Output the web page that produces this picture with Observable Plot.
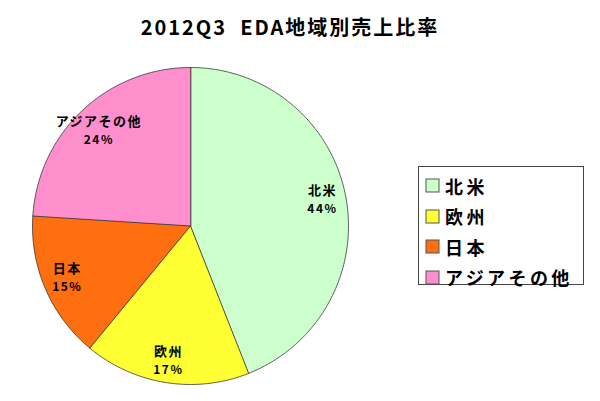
<!DOCTYPE html>
<html>
<head>
<meta charset="utf-8">
<script src="https://cdn.jsdelivr.net/npm/d3@7"></script>
<script src="https://cdn.jsdelivr.net/npm/@observablehq/plot@0.6"></script>
<style>
  html, body { margin: 0; padding: 0; background: #fff; }
  #wrap { position: relative; width: 600px; height: 401px; overflow: hidden;
          font-family: "Noto Sans CJK JP", "DejaVu Sans", sans-serif; }
  #title { position: absolute; left: 0; width: 580px; top: 12px; text-align: center;
           font-size: 20px; font-weight: bold; color: #000; white-space: pre; letter-spacing: 2px; }
  #legend { position: absolute; left: 418px; top: 166px; width: 166px; height: 119px;
            border: 1px solid #444; box-sizing: border-box; padding: 4px 0 0 7px; }
  #legend [class$="-swatches"] { margin: 0 !important; }
  #legend [class$="-swatch"] { display: flex; align-items: center; height: 29.5px; margin: 0 !important; }
  #legend [class$="-swatch"] svg { margin-right: 6px !important; overflow: visible; }
  #legend [class$="-swatch"] svg rect { stroke: #555; stroke-width: 1; }
  #legend, #legend * { font-family: "Noto Sans CJK JP", sans-serif; font-size: 18px; font-weight: bold; color: #000; letter-spacing: 3.4px; }
  #chart { position: absolute; left: 0; top: 0; }
  #chart text { letter-spacing: 1.5px; }
</style>
</head>
<body>
<div id="wrap">
  <div id="chart"></div>
  <div id="title"></div>
  <div id="legend"></div>
</div>
<script>
const titleText = "2012Q3  EDA地域別売上比率";
const regions = ["北米", "欧州", "日本", "アジアその他"];
const shares = [44, 17, 15, 24];
const colors = ["#ccffcc", "#ffff33", "#ff6f0f", "#ff8fcc"];

document.getElementById("title").textContent = titleText;

const table = regions.map((name, i) => ({name, value: shares[i]}));
const arcs = d3.pie().sort(null).value(d => d.value)(table);

// polygon points for each slice (unit circle, angle 0 at top, clockwise)
const slicePts = [];
for (const a of arcs) {
  slicePts.push({name: a.data.name, x: 0, y: 0});
  const n = Math.max(8, Math.ceil((a.endAngle - a.startAngle) / 0.01));
  for (let k = 0; k <= n; k++) {
    const t = a.startAngle + (a.endAngle - a.startAngle) * k / n;
    slicePts.push({name: a.data.name, x: Math.sin(t), y: Math.cos(t)});
  }
}
// label anchor points
const labelPos = {"北米": [0.835, 0.165], "欧州": [-0.14, -0.85], "日本": [-0.78, -0.33], "アジアその他": [-0.58, 0.6]};
const labels = arcs.map(a => ({
  name: a.data.name,
  pct: `${a.data.value}%`,
  x: labelPos[a.data.name][0],
  y: labelPos[a.data.name][1]
}));

const color = {domain: regions, range: colors};
const font = "'Noto Sans CJK JP', sans-serif";

const chart = Plot.plot({
  width: 600,
  height: 401,
  marginLeft: 32,
  marginRight: 252,
  marginTop: 67,
  marginBottom: 17,
  x: {domain: [-1, 1], axis: null},
  y: {domain: [-1, 1], axis: null},
  color,
  style: {background: "transparent"},
  marks: [
    Plot.line(slicePts, {x: "x", y: "y", z: "name", fill: "name", stroke: "#333", strokeWidth: 0.8, curve: "linear-closed"}),
    Plot.text(labels, {x: "x", y: "y", text: "name", dy: -9, fontSize: 13, fontWeight: "bold", fill: "#000", fontFamily: font}),
    Plot.text(labels, {x: "x", y: "y", text: "pct", dy: 9, fontSize: 12, fontWeight: "bold", fill: "#000", fontFamily: font})
  ]
});
document.getElementById("chart").appendChild(chart);

const legend = Plot.legend({color, legend: "swatches", columns: 1, swatchSize: 13});
document.getElementById("legend").appendChild(legend);
</script>
</body>
</html>
